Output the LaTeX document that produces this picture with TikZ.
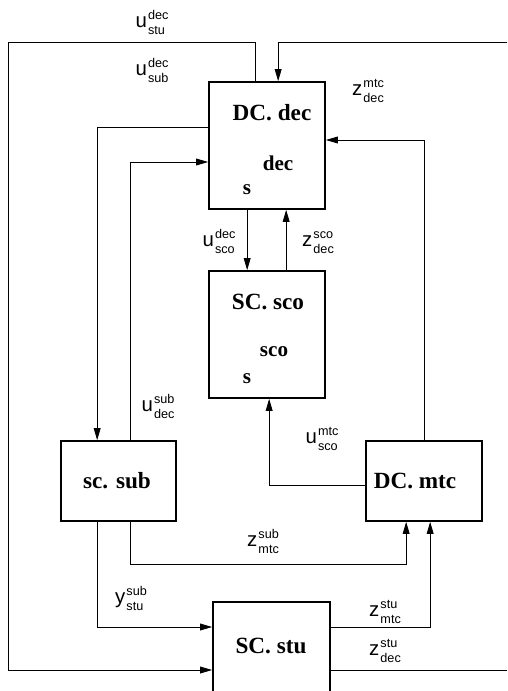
\documentclass[tikz,border=0pt]{standalone}
\usepackage{fontspec}
\setmainfont{Liberation Serif}
\setsansfont{Liberation Sans}
\usetikzlibrary{arrows.meta,calc}

\newcommand{\sig}[3]{\textsf{#1}\kern0.8pt{\fontsize{9}{11}\selectfont\sffamily
  \begin{tabular}[c]{@{}l@{}}#2\\#3\end{tabular}}}

\begin{document}
\begin{tikzpicture}[
  x=0.025cm, y=-0.025cm,
  >={Triangle[length=3mm,width=1.7mm]},
  every node/.style={font=\fontsize{14.5}{16}\selectfont},
  block/.style={draw,line width=1.2pt,inner sep=0pt},
  title/.style={font=\fontsize{16.5}{18}\selectfont\bfseries},
  inner/.style={font=\fontsize{15}{17}\selectfont\bfseries},
  flow/.style={line width=0.6pt,->},
  wire/.style={line width=0.6pt}
]
\useasboundingbox (0,0) rectangle (507,691);
\clip (0,0) rectangle (507,691);

% ------------------------------------------------------------
% Blocks
% ------------------------------------------------------------
\node[block,minimum width=116*0.025cm,minimum height=127*0.025cm] (dcdec) at (267,145.5) {};
\node[block,minimum width=116*0.025cm,minimum height=127*0.025cm] (scsco) at (267,334.5) {};
\node[block,minimum width=115*0.025cm,minimum height=80*0.025cm] (scsub) at (118.5,481) {};
\node[block,minimum width=116*0.025cm,minimum height=80*0.025cm] (dcmtc) at (424,481) {};
\node[block,minimum width=117*0.025cm,minimum height=118*0.025cm] (scstu) at (271.5,661) {};

\node[title] (tdec) at (272,113) {DC. dec};
\node[inner] (idec) at (278,163) {dec};
\node[inner] (sdec) at (247,190) {s};
\node[title] (tsco) at (268,302) {SC. sco};
\node[inner] (isco) at (274,352) {sco};
\node[inner] (ssco) at (247,379) {s};
\node[title] (tsub) at (117,481) {sc. sub};
\node[title] (tmtc) at (415,481) {DC. mtc};
\node[title] (tstu) at (271,646) {SC. stu};

% ------------------------------------------------------------
% Outer loops
% ------------------------------------------------------------
\coordinate (ltop) at (8,42);
\coordinate (rtop) at (507,42);
\coordinate (rbot) at (507,670);

\draw[flow] ($(dcdec.north west)+(47,0)$) |- (ltop) |- ($(scstu.west)+(0,9)$);
\draw[flow] (rtop) -| ($(dcdec.north west)+(70,0)$);
\draw[wire] ($(scstu.east)+(0,9)$) -- (rbot);

% ------------------------------------------------------------
% Inner connections
% ------------------------------------------------------------
\draw[flow] ($(dcdec.west)+(0,-18.5)$) -| ($(scsub.north west)+(37,0)$);
\draw[flow] ($(scsub.north west)+(70,0)$) |- ($(dcdec.west)+(0,16.5)$);
\draw[flow] (dcmtc.north) |- ($(dcdec.east)+(0,-5.5)$);

\draw[flow] ($(dcdec.south west)+(39,0)$) -- ($(scsco.north west)+(39,0)$);
\draw[flow] ($(scsco.north west)+(78,0)$) -- ($(dcdec.south west)+(78,0)$);
\draw[flow] ($(dcmtc.west)+(0,4)$) -| ($(scsco.south west)+(61,0)$);

\draw[flow] ($(scsub.south west)+(70,0)$) -- ++(0,43) -| ($(dcmtc.south west)+(41,0)$);
\draw[flow] ($(scsub.south west)+(37,0)$) |- ($(scstu.west)+(0,-34)$);
\draw[flow] ($(scstu.east)+(0,-34)$) -| ($(dcmtc.south west)+(65,0)$);

% ------------------------------------------------------------
% Signal labels
% ------------------------------------------------------------
\node (lustu) at (152,24) {\sig{u}{dec}{stu}};
\node (lusub) at (152,72) {\sig{u}{dec}{sub}};
\node (lzdec) at (368,92) {\sig{z}{mtc}{dec}};
\node (lusco) at (219,243) {\sig{u}{dec}{sco}};
\node (lzsco) at (318,243) {\sig{z}{sco}{dec}};
\node (ludec) at (158,408) {\sig{u}{sub}{dec}};
\node (lumtc) at (322,440) {\sig{u}{mtc}{sco}};
\node (lzsub) at (263,543) {\sig{z}{sub}{mtc}};
\node (lystu) at (131,600) {\sig{y}{sub}{stu}};
\node (lzmtc) at (385,613) {\sig{z}{stu}{mtc}};
\node (lzstu) at (385,652) {\sig{z}{stu}{dec}};

\end{tikzpicture}
\end{document}
